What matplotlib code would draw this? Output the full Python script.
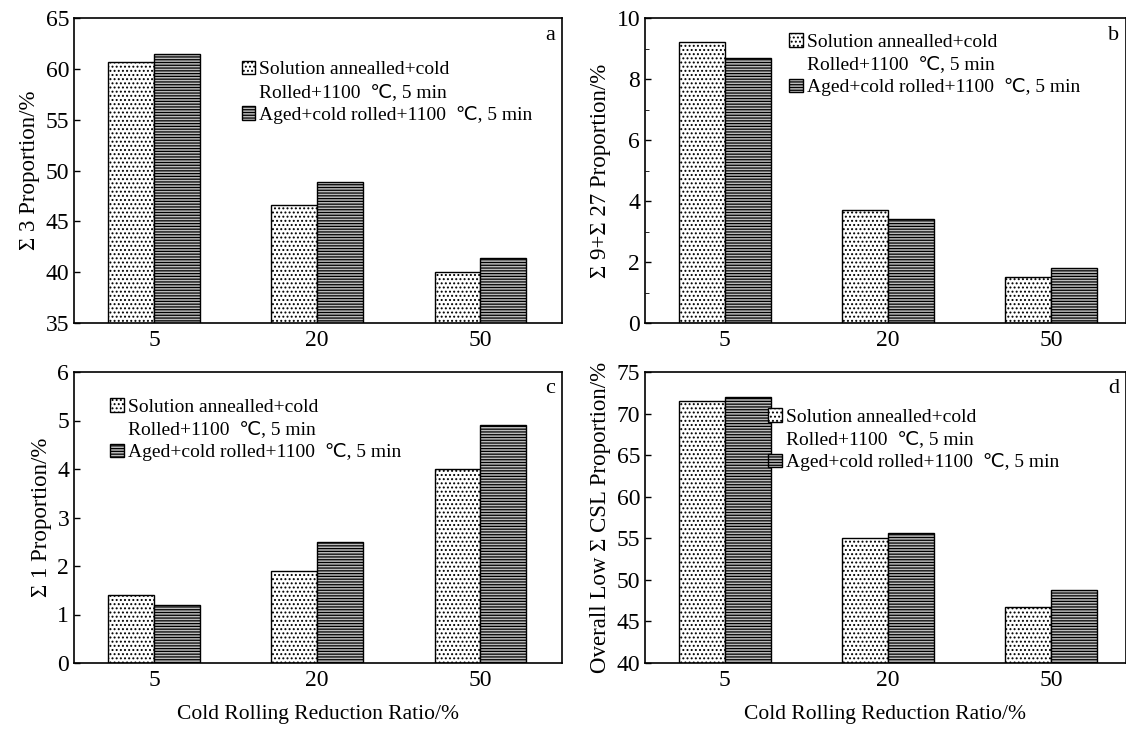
import numpy as np
import matplotlib
matplotlib.use("Agg")
import matplotlib.pyplot as plt
from matplotlib.patches import Rectangle

plt.rcParams['font.family'] = ['Liberation Serif', 'DejaVu Sans']
plt.rcParams['hatch.linewidth'] = 0.9

# data
ratios = ['5', '20', '50']
legend_lines = ['Solution annealled+cold',
                'Rolled+1100  \u2103, 5 min',
                'Aged+cold rolled+1100  \u2103, 5 min']

sig3_sol = [60.7, 46.6, 40.0]
sig3_aged = [61.5, 48.9, 41.4]

sig927_sol = [9.2, 3.7, 1.5]
sig927_aged = [8.7, 3.4, 1.8]

sig1_sol = [1.4, 1.9, 4.0]
sig1_aged = [1.2, 2.5, 4.9]

csl_sol = [71.5, 55.0, 46.7]
csl_aged = [72.0, 55.6, 48.8]

W, H = 1126, 733
fig = plt.figure(figsize=(W / 100, H / 100), dpi=100)


def px_axes(left, top, right, bottom):
    return fig.add_axes([left / W, 1 - bottom / H, (right - left) / W, (bottom - top) / H])


def panel(ax, sol, aged, ylim, yticks, ylabel, tag, leg_xy, xlabel=False, right_edge=2.5, minor=None):
    x = np.arange(len(ratios))
    bw = 0.28
    b1 = ax.bar(x - bw / 2, sol, bw, color='white', edgecolor='black',
                hatch='....', linewidth=1.0)
    b2 = ax.bar(x + bw / 2, aged, bw, color='#bbbbbb', edgecolor='black',
                hatch='------', linewidth=1.0)
    ax.set_xlim(-0.49, right_edge)
    ax.set_ylim(*ylim)
    ax.set_yticks(yticks)
    if minor is not None:
        ax.set_yticks(minor, minor=True)
    ax.set_xticks(x)
    ax.set_xticklabels(ratios)
    ax.tick_params(axis='both', labelsize=17, direction='in', length=4, width=1)
    ax.tick_params(axis='y', which='minor', direction='in', length=3)
    ax.tick_params(axis='x', length=0, pad=5)
    ax.set_ylabel(ylabel, fontsize=16.5, labelpad=4)
    if xlabel:
        ax.set_xlabel('Cold Rolling Reduction Ratio/%', fontsize=15.5, labelpad=10)
    for s in ax.spines.values():
        s.set_linewidth(1.2)
    ax.text(0.985, 0.975, tag, transform=ax.transAxes, ha='right', va='top', fontsize=16)
    blank = Rectangle((0, 0), 1, 1, fill=False, edgecolor='none', linewidth=0)
    ax.legend([b1[0], blank, b2[0]], legend_lines, loc='upper left', bbox_to_anchor=leg_xy,
              frameon=False, fontsize=14, handlelength=0.7, handleheight=0.7,
              handletextpad=0.2, labelspacing=0.25, borderaxespad=0, borderpad=0)


ax_a = px_axes(74, 18, 562, 323)
panel(ax_a, sig3_sol, sig3_aged, (35, 65), [35, 40, 45, 50, 55, 60, 65],
      '\u03a3 3 Proportion/%', 'a', (0.344, 0.86))

ax_b = px_axes(645, 18, 1126, 323)
panel(ax_b, sig927_sol, sig927_aged, (0, 10), [0, 2, 4, 6, 8, 10],
      '\u03a3 9+\u03a3 27 Proportion/%', 'b', (0.30, 0.95), right_edge=2.46,
      minor=[1, 3, 5, 7, 9])

ax_c = px_axes(74, 372, 562, 663)
panel(ax_c, sig1_sol, sig1_aged, (0, 6), [0, 1, 2, 3, 4, 5, 6],
      '\u03a3 1 Proportion/%', 'c', (0.074, 0.91), xlabel=True)

ax_d = px_axes(645, 372, 1126, 663)
panel(ax_d, csl_sol, csl_aged, (40, 75), [40, 45, 50, 55, 60, 65, 70, 75],
      'Overall Low \u03a3 CSL Proportion/%', 'd', (0.256, 0.875), xlabel=True, right_edge=2.46)

fig.savefig('out.png', dpi=100)
